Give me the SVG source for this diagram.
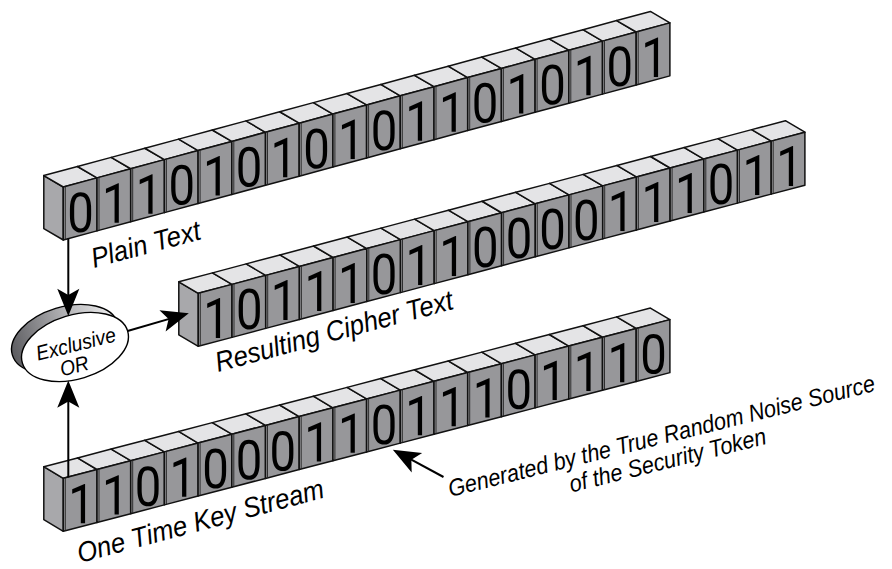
<svg xmlns="http://www.w3.org/2000/svg" width="892" height="569" viewBox="0 0 892 569">
<style>
.top{fill:#e4e4e6;stroke:#111;stroke-width:1.5;stroke-linejoin:round}
.front{fill:#97979a;stroke:#111;stroke-width:1.5;stroke-linejoin:round}
.inner{stroke:#222;stroke-width:0.9;fill:none}
.side{fill:#a8a8ab;stroke:#111;stroke-width:1.5;stroke-linejoin:round}
.dg{font-family:Roboto,'Liberation Sans',Arial,sans-serif;font-size:55px;text-anchor:middle;fill:#000}
.lbl{font-family:'Liberation Sans',Arial,sans-serif;font-style:italic;font-size:28px;fill:#000}
.sm{font-family:'Liberation Sans',Arial,sans-serif;font-style:italic;font-size:24px;fill:#000;text-anchor:middle}
.xo{font-family:'Liberation Sans',Arial,sans-serif;font-style:italic;font-size:21px;fill:#000;text-anchor:middle}
.conn{stroke:#000;stroke-width:2;fill:none;marker-end:url(#ah)}
</style>
<defs>
<marker id="ah" markerUnits="userSpaceOnUse" markerWidth="40" markerHeight="30" viewBox="-36 -13 38 26" refX="-10" refY="0" orient="auto">
<path d="M0,0 L-26,-10.5 L-20,0 L-26,10.5 Z" fill="#000"/>
</marker>
<linearGradient id="rim" x1="0" y1="0" x2="1" y2="0">
<stop offset="0" stop-color="#5c5c60"/>
<stop offset="0.5" stop-color="#a8a8ab"/>
<stop offset="1" stop-color="#f0f0f1"/>
</linearGradient>
<g id="cube">
<path class="top" d="M0,0 L33.7,-8.95 L14.2,-20.45 L-19.5,-11.5 Z"/>
<path class="front" d="M0,0 L33.7,-8.95 L33.7,44.05 L0,53 Z"/>
<path class="inner" d="M2,-0.5 L2,52.5"/>
</g>
</defs>
<rect width="892" height="569" fill="#fff"/>

<g id="plain-text-row" transform="matrix(1,-0.005,0,1,63.3,187)">
<path class="side" d="M0,0 L-19.5,-11.5 L-19.5,41.5 L0,53 Z"/>
<use href="#cube" x="0" y="0"/>
<use href="#cube" x="33.7" y="-8.95"/>
<use href="#cube" x="67.4" y="-17.9"/>
<use href="#cube" x="101.1" y="-26.85"/>
<use href="#cube" x="134.8" y="-35.8"/>
<use href="#cube" x="168.5" y="-44.75"/>
<use href="#cube" x="202.2" y="-53.7"/>
<use href="#cube" x="235.9" y="-62.65"/>
<use href="#cube" x="269.6" y="-71.6"/>
<use href="#cube" x="303.3" y="-80.55"/>
<use href="#cube" x="337" y="-89.5"/>
<use href="#cube" x="370.7" y="-98.45"/>
<use href="#cube" x="404.4" y="-107.4"/>
<use href="#cube" x="438.1" y="-116.35"/>
<use href="#cube" x="471.8" y="-125.3"/>
<use href="#cube" x="505.5" y="-134.25"/>
<use href="#cube" x="539.2" y="-143.2"/>
<use href="#cube" x="572.9" y="-152.15"/>
<text class="dg" transform="translate(17.35,45) scale(0.86,1)">0</text>
<text class="dg" transform="translate(52,36.05) scale(0.86,1)">1</text>
<text class="dg" transform="translate(85.7,27.1) scale(0.86,1)">1</text>
<text class="dg" transform="translate(118.45,18.15) scale(0.86,1)">0</text>
<text class="dg" transform="translate(153.1,9.2) scale(0.86,1)">1</text>
<text class="dg" transform="translate(185.85,0.25) scale(0.86,1)">0</text>
<text class="dg" transform="translate(220.5,-8.7) scale(0.86,1)">1</text>
<text class="dg" transform="translate(253.25,-17.65) scale(0.86,1)">0</text>
<text class="dg" transform="translate(287.9,-26.6) scale(0.86,1)">1</text>
<text class="dg" transform="translate(320.65,-35.55) scale(0.86,1)">0</text>
<text class="dg" transform="translate(355.3,-44.5) scale(0.86,1)">1</text>
<text class="dg" transform="translate(389,-53.45) scale(0.86,1)">1</text>
<text class="dg" transform="translate(421.75,-62.4) scale(0.86,1)">0</text>
<text class="dg" transform="translate(456.4,-71.35) scale(0.86,1)">1</text>
<text class="dg" transform="translate(489.15,-80.3) scale(0.86,1)">0</text>
<text class="dg" transform="translate(523.8,-89.25) scale(0.86,1)">1</text>
<text class="dg" transform="translate(556.55,-98.2) scale(0.86,1)">0</text>
<text class="dg" transform="translate(591.2,-107.15) scale(0.86,1)">1</text>
</g>

<g id="cipher-text-row" transform="translate(198.3,293.3)">
<path class="side" d="M0,0 L-19.5,-11.5 L-19.5,41.5 L0,53 Z"/>
<use href="#cube" x="0" y="0"/>
<use href="#cube" x="33.7" y="-8.95"/>
<use href="#cube" x="67.4" y="-17.9"/>
<use href="#cube" x="101.1" y="-26.85"/>
<use href="#cube" x="134.8" y="-35.8"/>
<use href="#cube" x="168.5" y="-44.75"/>
<use href="#cube" x="202.2" y="-53.7"/>
<use href="#cube" x="235.9" y="-62.65"/>
<use href="#cube" x="269.6" y="-71.6"/>
<use href="#cube" x="303.3" y="-80.55"/>
<use href="#cube" x="337" y="-89.5"/>
<use href="#cube" x="370.7" y="-98.45"/>
<use href="#cube" x="404.4" y="-107.4"/>
<use href="#cube" x="438.1" y="-116.35"/>
<use href="#cube" x="471.8" y="-125.3"/>
<use href="#cube" x="505.5" y="-134.25"/>
<use href="#cube" x="539.2" y="-143.2"/>
<use href="#cube" x="572.9" y="-152.15"/>
<text class="dg" transform="translate(18.3,45) scale(0.86,1)">1</text>
<text class="dg" transform="translate(51.05,36.05) scale(0.86,1)">0</text>
<text class="dg" transform="translate(85.7,27.1) scale(0.86,1)">1</text>
<text class="dg" transform="translate(119.4,18.15) scale(0.86,1)">1</text>
<text class="dg" transform="translate(153.1,9.2) scale(0.86,1)">1</text>
<text class="dg" transform="translate(185.85,0.25) scale(0.86,1)">0</text>
<text class="dg" transform="translate(220.5,-8.7) scale(0.86,1)">1</text>
<text class="dg" transform="translate(254.2,-17.65) scale(0.86,1)">1</text>
<text class="dg" transform="translate(286.95,-26.6) scale(0.86,1)">0</text>
<text class="dg" transform="translate(320.65,-35.55) scale(0.86,1)">0</text>
<text class="dg" transform="translate(354.35,-44.5) scale(0.86,1)">0</text>
<text class="dg" transform="translate(388.05,-53.45) scale(0.86,1)">0</text>
<text class="dg" transform="translate(422.7,-62.4) scale(0.86,1)">1</text>
<text class="dg" transform="translate(456.4,-71.35) scale(0.86,1)">1</text>
<text class="dg" transform="translate(490.1,-80.3) scale(0.86,1)">1</text>
<text class="dg" transform="translate(522.85,-89.25) scale(0.86,1)">0</text>
<text class="dg" transform="translate(557.5,-98.2) scale(0.86,1)">1</text>
<text class="dg" transform="translate(591.2,-107.15) scale(0.86,1)">1</text>
</g>

<g id="key-stream-row" transform="matrix(1,0.004,0,1,63.3,478.3)">
<path class="side" d="M0,0 L-19.5,-11.5 L-19.5,41.5 L0,53 Z"/>
<use href="#cube" x="0" y="0"/>
<use href="#cube" x="33.7" y="-8.95"/>
<use href="#cube" x="67.4" y="-17.9"/>
<use href="#cube" x="101.1" y="-26.85"/>
<use href="#cube" x="134.8" y="-35.8"/>
<use href="#cube" x="168.5" y="-44.75"/>
<use href="#cube" x="202.2" y="-53.7"/>
<use href="#cube" x="235.9" y="-62.65"/>
<use href="#cube" x="269.6" y="-71.6"/>
<use href="#cube" x="303.3" y="-80.55"/>
<use href="#cube" x="337" y="-89.5"/>
<use href="#cube" x="370.7" y="-98.45"/>
<use href="#cube" x="404.4" y="-107.4"/>
<use href="#cube" x="438.1" y="-116.35"/>
<use href="#cube" x="471.8" y="-125.3"/>
<use href="#cube" x="505.5" y="-134.25"/>
<use href="#cube" x="539.2" y="-143.2"/>
<use href="#cube" x="572.9" y="-152.15"/>
<text class="dg" transform="translate(18.3,45) scale(0.86,1)">1</text>
<text class="dg" transform="translate(52,36.05) scale(0.86,1)">1</text>
<text class="dg" transform="translate(84.75,27.1) scale(0.86,1)">0</text>
<text class="dg" transform="translate(119.4,18.15) scale(0.86,1)">1</text>
<text class="dg" transform="translate(152.15,9.2) scale(0.86,1)">0</text>
<text class="dg" transform="translate(185.85,0.25) scale(0.86,1)">0</text>
<text class="dg" transform="translate(219.55,-8.7) scale(0.86,1)">0</text>
<text class="dg" transform="translate(254.2,-17.65) scale(0.86,1)">1</text>
<text class="dg" transform="translate(287.9,-26.6) scale(0.86,1)">1</text>
<text class="dg" transform="translate(320.65,-35.55) scale(0.86,1)">0</text>
<text class="dg" transform="translate(355.3,-44.5) scale(0.86,1)">1</text>
<text class="dg" transform="translate(389,-53.45) scale(0.86,1)">1</text>
<text class="dg" transform="translate(422.7,-62.4) scale(0.86,1)">1</text>
<text class="dg" transform="translate(455.45,-71.35) scale(0.86,1)">0</text>
<text class="dg" transform="translate(490.1,-80.3) scale(0.86,1)">1</text>
<text class="dg" transform="translate(523.8,-89.25) scale(0.86,1)">1</text>
<text class="dg" transform="translate(557.5,-98.2) scale(0.86,1)">1</text>
<text class="dg" transform="translate(590.25,-107.15) scale(0.86,1)">0</text>
</g>

<g id="labels">
<text class="lbl" transform="translate(94,268) rotate(-15) scale(0.92,1)">Plain Text</text>
<text class="lbl" transform="translate(218,372) rotate(-15) scale(0.92,1)">Resulting Cipher Text</text>
<text class="lbl" transform="translate(80,563) rotate(-15) scale(0.92,1)">One Time Key Stream</text>
</g>

<g id="xor">
<ellipse cx="65" cy="339" rx="55" ry="32" transform="rotate(-17 65 339)" fill="url(#rim)" stroke="#000" stroke-width="1.4"/>
<ellipse cx="75" cy="347" rx="55" ry="32" transform="rotate(-17 75 347)" fill="#fff" stroke="#000" stroke-width="1.4"/>
<text class="xo" transform="translate(77.5,351) rotate(-14) scale(0.92,1)">Exclusive</text>
<text class="xo" transform="translate(76,373) rotate(-14) scale(0.92,1)">OR</text>
</g>

<g id="generated-note" transform="translate(663.5,443.8) rotate(-14) scale(0.9,1)">
<text class="sm" x="0" y="0">Generated by the True Random Noise Source</text>
<text class="sm" x="0" y="25">of the Security Token</text>
</g>

<g id="connectors">
<line class="conn" x1="68.3" y1="238.5" x2="68.3" y2="305.5"/>
<line class="conn" x1="68.3" y1="477.5" x2="68.3" y2="391"/>
<line class="conn" x1="127.6" y1="331" x2="178.7" y2="316.1"/>
<line class="conn" x1="443.5" y1="477" x2="402.1" y2="454.7"/>
</g>
</svg>
